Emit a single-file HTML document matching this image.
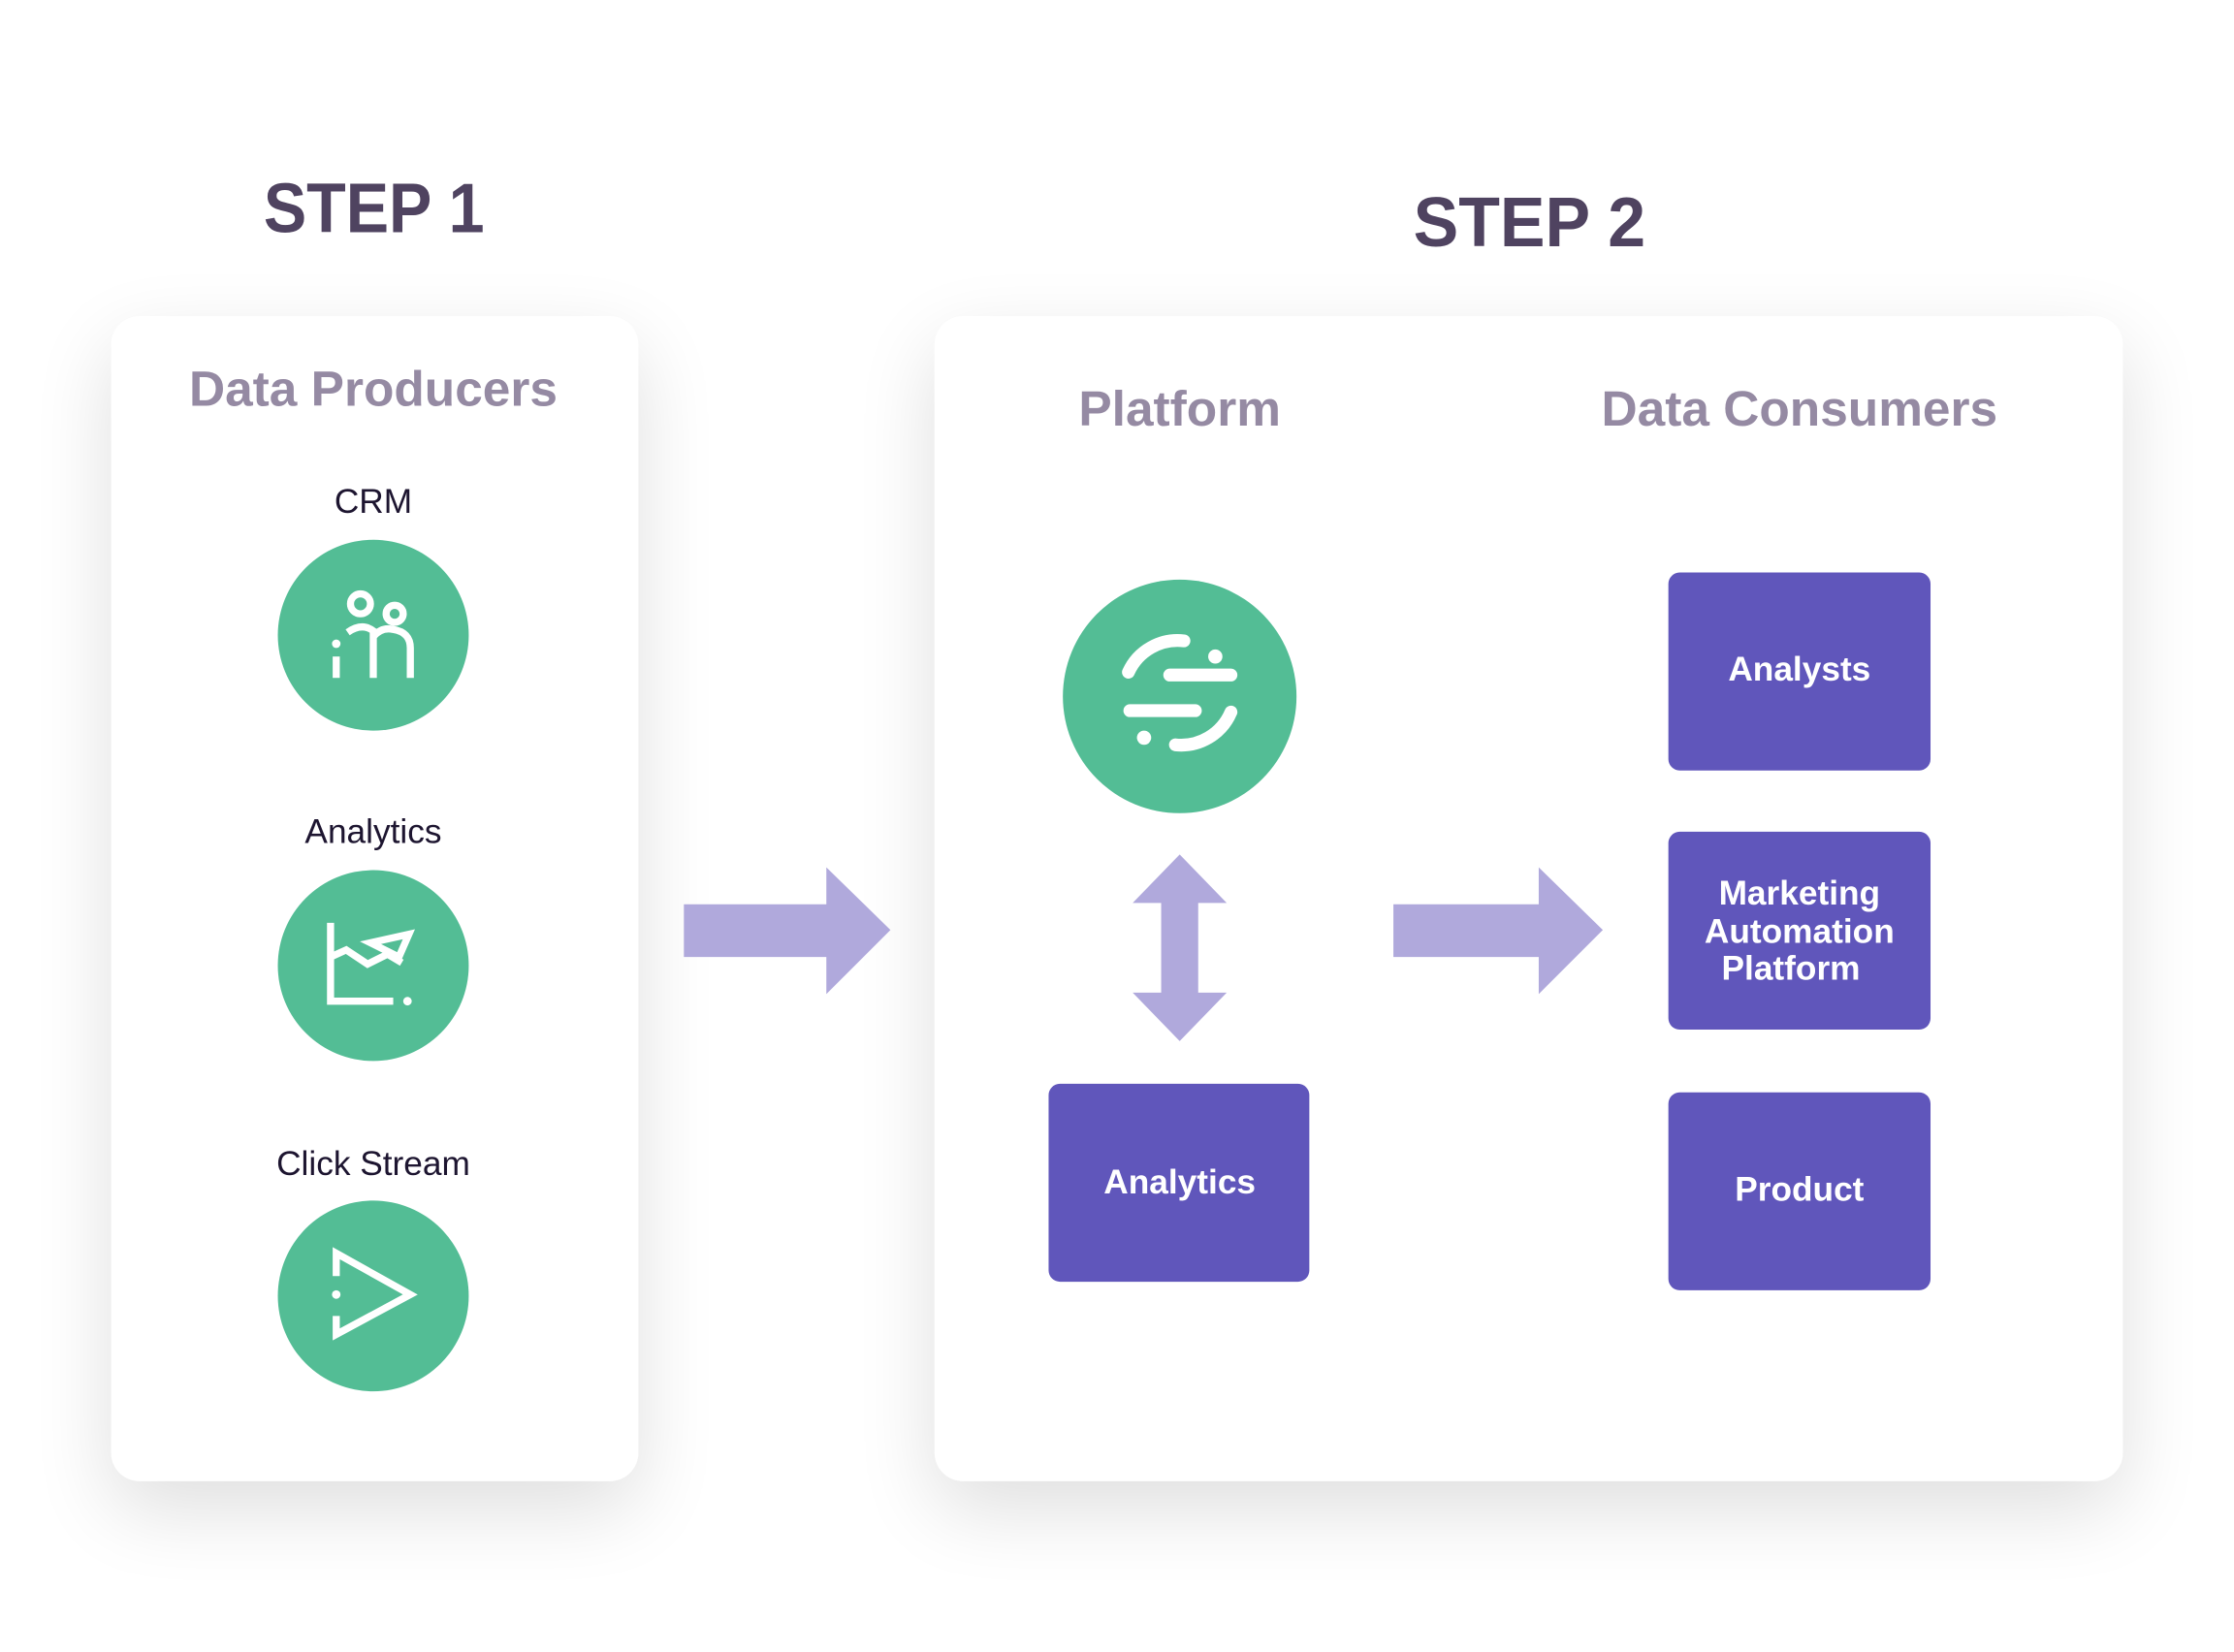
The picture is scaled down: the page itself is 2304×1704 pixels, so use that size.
<!DOCTYPE html>
<html><head><meta charset="utf-8"><style>
html,body{margin:0;padding:0;background:#fff;width:2304px;height:1704px;overflow:hidden}
svg{display:block}
text{font-family:"Liberation Sans",sans-serif}
</style></head><body>
<svg width="2304" height="1704" viewBox="0 0 1568 1160" preserveAspectRatio="none" xmlns="http://www.w3.org/2000/svg">
<defs>
<filter id="sh" x="-30%" y="-30%" width="160%" height="160%">
<feGaussianBlur in="SourceAlpha" stdDeviation="28"/>
<feOffset dy="20"/>
<feComponentTransfer><feFuncA type="linear" slope="0.13"/></feComponentTransfer>
<feMerge><feMergeNode/><feMergeNode in="SourceGraphic"/></feMerge>
</filter>
</defs>
<rect width="1568" height="1160" fill="#fff"/>
<text x="185" y="163" font-size="49" font-weight="bold" fill="#4f4360" textLength="155" lengthAdjust="spacingAndGlyphs">STEP 1</text>
<text x="992" y="173" font-size="49" font-weight="bold" fill="#4f4360" textLength="163" lengthAdjust="spacingAndGlyphs">STEP 2</text>

<rect x="78" y="222" width="370" height="818" rx="20" fill="#fff" filter="url(#sh)"/>
<rect x="656" y="222" width="834" height="818" rx="20" fill="#fff" filter="url(#sh)"/>

<text x="262" y="285" text-anchor="middle" font-size="35" font-weight="bold" fill="#958aa3">Data Producers</text>
<text x="828" y="299" text-anchor="middle" font-size="35" font-weight="bold" fill="#958aa3">Platform</text>
<text x="1263" y="299" text-anchor="middle" font-size="35" font-weight="bold" fill="#958aa3">Data Consumers</text>

<g font-size="24" fill="#1d1530" text-anchor="middle">
<text x="262" y="360">CRM</text>
<text x="262" y="592">Analytics</text>
<text x="262" y="825">Click Stream</text>
</g>

<circle cx="262" cy="446" r="67" fill="#53bd95"/>
<circle cx="262" cy="678" r="67" fill="#53bd95"/>
<circle cx="262" cy="910" r="67" fill="#53bd95"/>

<g fill="none" stroke="#fff" stroke-width="5">
<circle cx="253" cy="424" r="7"/>
<circle cx="277" cy="431" r="6"/>
<path d="M244 444 Q254 437 262 443 L262 476"/>
<path d="M262 447 Q268 440 276 442 Q288 444 288 455 L288 476"/>
<path d="M236 461 L236 476"/>
</g>
<circle cx="236" cy="452" r="3" fill="#fff"/>
<g fill="none" stroke="#fff" stroke-width="5">
<path d="M232 648 L232 703 L276 703"/>
<path d="M232 672 L243 667 L258 677 L272 670 L282 676"/>
<path d="M260 662 L287 656 L280 672 Z"/>
</g>
<circle cx="286" cy="703" r="3" fill="#fff"/>
<g fill="none" stroke="#fff" stroke-width="5">
<path d="M236 896 L236 880 L288 909 L236 937 L236 924"/>
</g>
<circle cx="236" cy="909" r="3" fill="#fff"/>

<path d="M480 635 L580 635 L580 609 L625 653 L580 698 L580 672 L480 672 Z" fill="#b0a9dc"/>
<path d="M978 635 L1080 635 L1080 609 L1125 653 L1080 698 L1080 672 L978 672 Z" fill="#b0a9dc"/>
<path d="M828 600 L861 634 L841 634 L841 697 L861 697 L828 731 L795 697 L815 697 L815 634 L795 634 Z" fill="#b0a9dc"/>

<circle cx="828" cy="489" r="82" fill="#53bd95"/>
<g fill="none" stroke="#fff" stroke-width="9" stroke-linecap="round">
<path d="M793 499 L839 499"/>
<path d="M821 474 L864 474"/>
<path d="M792 472 A38 38 0 0 1 831 450"/>
<path d="M864 500 A38 38 0 0 1 825 523"/>
</g>
<circle cx="853" cy="461" r="5" fill="#fff"/>
<circle cx="803" cy="518" r="5" fill="#fff"/>

<g fill="#6056bb">
<rect x="736" y="761" width="183" height="139" rx="8"/>
<rect x="1171" y="402" width="184" height="139" rx="8"/>
<rect x="1171" y="584" width="184" height="139" rx="8"/>
<rect x="1171" y="767" width="184" height="139" rx="8"/>
</g>
<g fill="#fff" font-size="24" font-weight="bold" text-anchor="middle">
<text x="828" y="838">Analytics</text>
<text x="1263" y="478">Analysts</text>
<text x="1263" y="635">Marketing</text>
<text x="1263" y="662">Automation</text>
<text x="1257" y="688">Platform</text>
<text x="1263" y="843">Product</text>
</g>
</svg>
</body></html>
